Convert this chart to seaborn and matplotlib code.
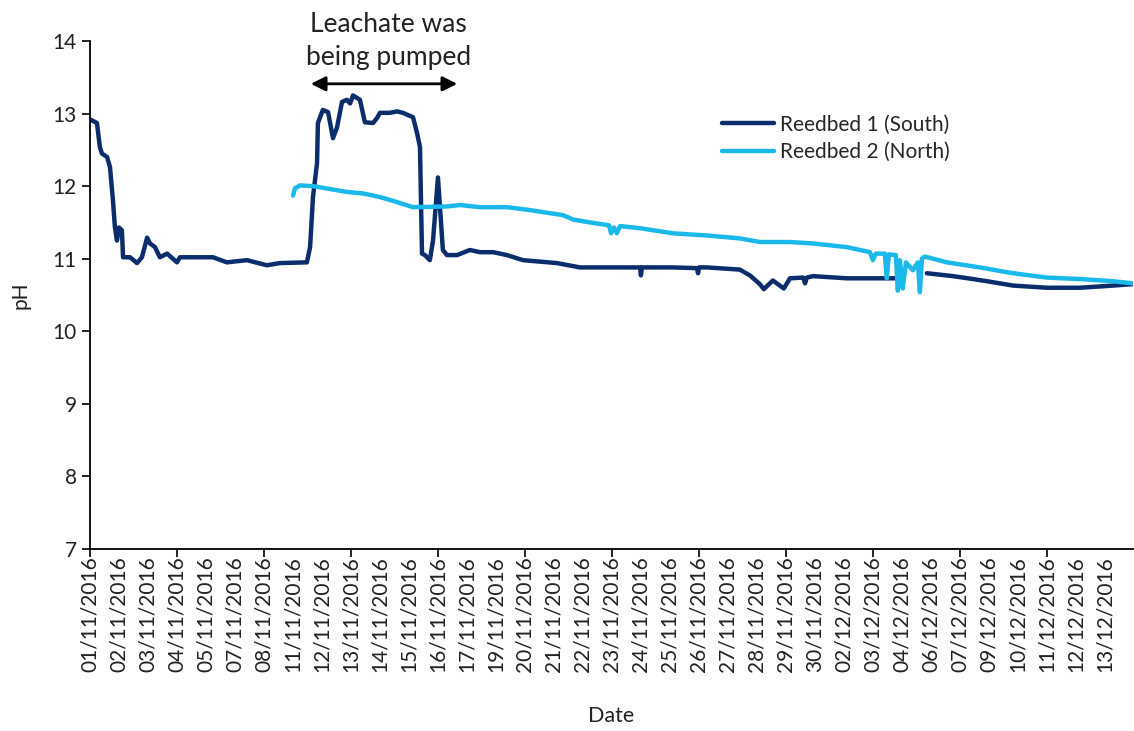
import numpy as np
import pandas as pd
import matplotlib.pyplot as plt
import seaborn as sns

# category labels shown along the x axis (one label per step)
date_labels = ["01/11/2016", "02/11/2016", "03/11/2016", "04/11/2016", "05/11/2016",
               "07/11/2016", "08/11/2016", "11/11/2016", "12/11/2016", "13/11/2016",
               "14/11/2016", "15/11/2016", "16/11/2016", "17/11/2016", "19/11/2016",
               "20/11/2016", "21/11/2016", "22/11/2016", "23/11/2016", "24/11/2016",
               "25/11/2016", "26/11/2016", "27/11/2016", "28/11/2016", "29/11/2016",
               "30/11/2016", "02/12/2016", "03/12/2016", "04/12/2016", "06/12/2016",
               "07/12/2016", "09/12/2016", "10/12/2016", "11/12/2016", "12/12/2016",
               "13/12/2016"]

# Reedbed 1 (South): position in label steps, pH  (nan = logger gap)
south_pos = [0.0, 0.24, 0.34, 0.41, 0.59, 0.69, 0.79, 0.86, 0.93, 1.00, 1.10, 1.14, 1.38,
             1.62, 1.79, 1.97, 2.07, 2.24, 2.41, 2.66, 3.00, 3.10, 4.24, 4.72, 5.41, 6.10,
             6.55, 7.48, 7.59, 7.69, 7.83, 7.86, 8.03, 8.21, 8.38, 8.52, 8.69, 8.86, 8.97,
             9.07, 9.31, 9.48, 9.76, 9.90, 10.00, 10.34, 10.59, 10.79, 11.14, 11.28, 11.38,
             11.45, 11.55, 11.72, 11.83, 12.00, 12.10, 12.17, 12.31, 12.66, 13.10, 13.45,
             13.90, 14.38, 14.93, 16.10, 16.90, 17.83, 18.97, 19.00, 19.03, 20.10, 20.93,
             20.97, 21.00, 21.28, 22.41, 22.76, 23.10, 23.24, 23.34, 23.55, 23.72, 23.93,
             24.14, 24.59, 24.66, 24.72, 24.93, 26.10, 27.83, 28.30, 28.86, 29.76, 30.45,
             30.93, 31.83, 33.00, 34.14, 35.28, 35.97]
south_ph = [12.92, 12.87, 12.54, 12.45, 12.40, 12.26, 11.81, 11.43, 11.25, 11.43, 11.39,
            11.02, 11.02, 10.94, 11.02, 11.29, 11.21, 11.16, 11.02, 11.07, 10.95, 11.02,
            11.02, 10.95, 10.98, 10.91, 10.94, 10.95, 11.16, 11.85, 12.32, 12.87, 13.05,
            13.02, 12.66, 12.81, 13.16, 13.19, 13.14, 13.25, 13.19, 12.88, 12.87, 12.94,
            13.01, 13.01, 13.03, 13.01, 12.95, 12.73, 12.54, 11.07, 11.05, 10.98, 11.25,
            12.12, 11.53, 11.12, 11.05, 11.05, 11.12, 11.09, 11.09, 11.05, 10.98, 10.94,
            10.88, 10.88, 10.88, 10.77, 10.88, 10.88, 10.87, 10.80, 10.88, 10.88, 10.85,
            10.77, 10.65, 10.58, 10.62, 10.70, 10.65, 10.59, 10.73, 10.74, 10.66, 10.74,
            10.76, 10.73, 10.73, np.nan, 10.80, 10.76, 10.72, 10.69, 10.63, 10.60, 10.60,
            10.63, 10.65]

# Reedbed 2 (North)
north_pos = [7.00, 7.07, 7.24, 7.69, 8.28, 8.86, 9.41, 10.00, 10.59, 11.14, 12.31, 12.76,
             13.45, 14.38, 15.17, 16.31, 16.66, 17.24, 17.90, 17.97, 18.07, 18.17, 18.28,
             18.97, 20.10, 21.28, 22.41, 23.10, 24.14, 24.93, 26.10, 26.90, 27.00, 27.10,
             27.41, 27.48, 27.55, 27.79, 27.86, 27.93, 28.03, 28.14, 28.38, 28.55, 28.62,
             28.69, 28.79, 29.55, 30.69, 31.83, 33.00, 34.14, 35.28, 35.97]
north_ph = [11.87, 11.97, 12.01, 12.00, 11.96, 11.92, 11.90, 11.85, 11.78, 11.71, 11.72,
            11.74, 11.71, 11.71, 11.67, 11.60, 11.54, 11.50, 11.46, 11.35, 11.43, 11.35,
            11.45, 11.42, 11.35, 11.32, 11.28, 11.23, 11.23, 11.21, 11.16, 11.09, 10.98,
            11.07, 11.07, 10.73, 11.06, 11.05, 10.56, 10.98, 10.59, 10.95, 10.84, 10.95,
            10.54, 11.00, 11.03, 10.95, 10.88, 10.80, 10.74, 10.72, 10.69, 10.66]

south = pd.DataFrame({"pos": south_pos, "pH": south_ph})
south["seg"] = south["pH"].isna().cumsum()
south = south.dropna()
south["series"] = "Reedbed 1 (South)"
north = pd.DataFrame({"pos": north_pos, "pH": north_ph, "seg": 0})
north["series"] = "Reedbed 2 (North)"
df = pd.concat([south, north], ignore_index=True)
df["unit"] = df["series"] + df["seg"].astype(str)

sns.set_style("white")
plt.rcParams["font.family"] = ["Lato", "DejaVu Sans"]

fig = plt.figure(figsize=(11.34, 7.31), dpi=100)
ax = fig.add_axes([90 / 1134, 1 - 549 / 731, 1043 / 1134, 508 / 731])

sns.lineplot(data=df, x="pos", y="pH", hue="series", units="unit", estimator=None,
             sort=False, palette={"Reedbed 1 (South)": "#0B2D6C",
                                  "Reedbed 2 (North)": "#1BB8EA"},
             linewidth=3.2, ax=ax)

ax.set_xlim(0, 35.97)
ax.set_ylim(7, 14)
ax.set_yticks(range(7, 15))
ax.tick_params(axis="y", labelsize=15, length=6, width=1.2, direction="out", left=True,
               colors="black", labelcolor="#222222")

# tick marks every third label, a label at every step
ax.xaxis.remove_overlapping_locs = False
ax.set_xticks(range(0, 36, 3))
ax.set_xticklabels([])
ax.set_xticks(range(len(date_labels)), minor=True)
ax.set_xticklabels(date_labels, minor=True, rotation=90, fontsize=15, color="#222222")
ax.tick_params(axis="x", which="major", length=6, width=1.2, direction="out", bottom=True,
               colors="black")
ax.tick_params(axis="x", which="minor", length=0, pad=5)

for s in ["top", "right"]:
    ax.spines[s].set_visible(False)
for s in ["left", "bottom"]:
    ax.spines[s].set_color("black")
    ax.spines[s].set_linewidth(1.3)

ax.set_xlabel("Date", fontsize=15.5, color="#222222", labelpad=25)
ax.set_ylabel("pH", fontsize=15, color="#222222", labelpad=16)

ax.annotate("", xy=(12.76, 13.41), xytext=(7.52, 13.41), annotation_clip=False,
            arrowprops=dict(arrowstyle="<|-|>", color="black", lw=2, mutation_scale=22))
ax.text(10.3, 14.0, "Leachate was\nbeing pumped", ha="center", va="center", fontsize=19,
        color="#222222", linespacing=1.4, clip_on=False)

ax.legend(loc="upper left", bbox_to_anchor=(0.606, 0.855), frameon=False, fontsize=15,
          handlelength=2.5, handletextpad=0.3, labelspacing=0.35, borderpad=0,
          borderaxespad=0)

fig.savefig("out.png", dpi=100)
